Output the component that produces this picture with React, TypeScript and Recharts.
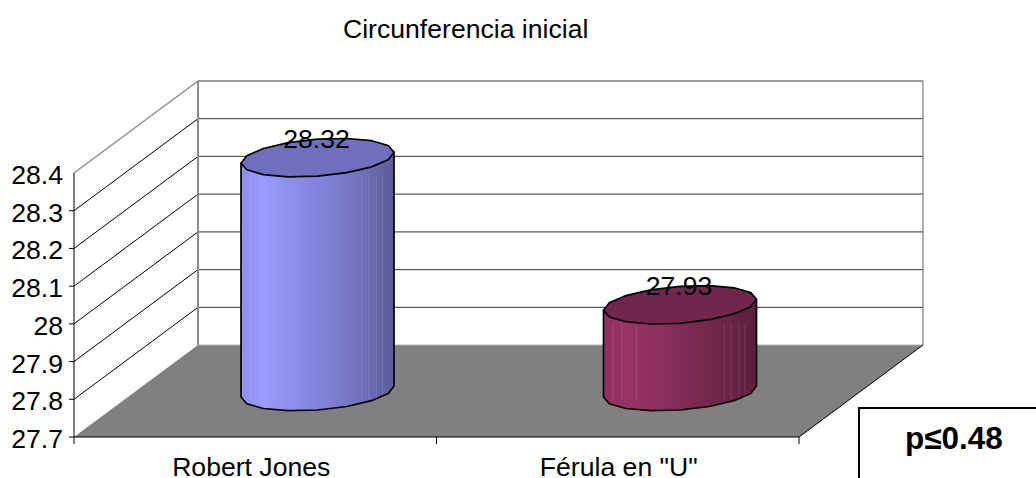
import React from "react";
import { BarChart, Bar, XAxis, YAxis, CartesianGrid, LabelList } from "recharts";

const categories = ["Robert Jones", 'Férula en "U"'];
const circunferencia = [28.32, 27.93];
const yTicks = [27.7, 27.8, 27.9, 28, 28.1, 28.2, 28.3, 28.4];
const title = "Circunferencia inicial";
const pValue = "p≤0.48";

const palette = [
  { top: "#6f6fbd", stops: ["#8f8fee", "#9999ff", "#8a8ae6", "#7676c4", "#5c5c99"] },
  { top: "#73264d", stops: ["#8f305f", "#993366", "#8a2e5c", "#70264b", "#5c1f3d"] },
];
const labelShift = [-4, 1];

const W = 1036, H = 478;
const LEFT = 74, TOP = 173, PW = 725, PH = 264;
const DX = 124, DY = 92;
const FONT = "'Liberation Sans', Arial, sans-serif";
const FS = 26.6;
const rows = categories.map((name, i) => ({ name, value: circunferencia[i] }));

const seams = [0.06, 0.12, 0.215, 0.79, 0.835, 0.885, 0.925];

function rim(cx: number, cy: number, a: number, from: number, to: number, n: number) {
  const pts: string[] = [];
  for (let i = 0; i <= n; i++) {
    const t = from + ((to - from) * i) / n;
    pts.push(`${(cx + a * Math.cos(t)).toFixed(1)} ${(cy + 18.5 * Math.sin(t) - 5.5 * Math.cos(t)).toFixed(1)}`);
  }
  return pts;
}

function Cylinder(props: any) {
  const { x, y, width, height, index } = props;
  const cx = x + width / 2 + DX / 2;
  const a = width / 2;
  const top = y - DY / 2 + 0.5;
  const bot = y + height - DY / 2 + 0.5;
  const c = palette[index];
  const id = `cyl-${index}`;
  const lower = rim(cx, bot, a, 0, Math.PI, 8);
  const leftTop = rim(cx, top, a, Math.PI, Math.PI, 1)[0];
  const rightTop = rim(cx, top, a, 0, 0, 1)[0];
  const side = `M ${rightTop} L ${lower.join(" L ")} L ${leftTop} Z`;
  const cap = `M ${rim(cx, top, a, 0, Math.PI * 2, 16).join(" L ")} Z`;
  return (
    <g>
      <defs>
        <linearGradient id={id} x1="0" y1="0" x2="1" y2="0">
          <stop offset="0" stopColor={c.stops[0]} />
          <stop offset="0.15" stopColor={c.stops[1]} />
          <stop offset="0.4" stopColor={c.stops[2]} />
          <stop offset="0.72" stopColor={c.stops[3]} />
          <stop offset="1" stopColor={c.stops[4]} />
        </linearGradient>
      </defs>
      <path d={side} fill={`url(#${id})`} stroke="#000" strokeWidth={1.7} strokeLinejoin="round" />
      {seams.map((s) => (
        <line
          key={s}
          x1={cx - a + s * width}
          x2={cx - a + s * width}
          y1={top + 18}
          y2={bot + 8}
          stroke="#fff"
          strokeOpacity={0.12}
          strokeWidth={1}
        />
      ))}
      <path d={cap} fill={c.top} stroke="#000" strokeWidth={1.7} strokeLinejoin="round" />
    </g>
  );
}

function WallLine(props: any) {
  const { x1, x2, y1, index } = props;
  const bx = x1 + DX;
  const by = y1 - DY;
  const isBottom = Math.abs(y1 - (TOP + PH)) < 1;
  const isTop = Math.abs(y1 - TOP) < 1;
  if (isBottom) {
    return (
      <g key={index}>
        <polygon points={`${x1},${y1} ${bx},${by} ${x2 + DX},${by} ${x2},${y1}`} fill="#808080" />
        <line x1={bx} y1={by} x2={x2 + DX} y2={by} stroke="#b0b0b0" strokeWidth={1} />
        <line x1={x2} y1={y1} x2={x2 + DX} y2={by} stroke="#000" strokeWidth={1} />
      </g>
    );
  }
  return (
    <g key={index}>
      <path d={`M ${x1} ${y1} L ${bx} ${by}`} fill="none" stroke={isTop ? "#8c8c8c" : "#000"} strokeWidth={isTop ? 1.4 : 1} />
      <line x1={bx} y1={by} x2={x2 + DX} y2={by} stroke={isTop ? "#999" : "#5a5a5a"} strokeWidth={isTop ? 2 : 1.2} />
      {isTop && (
        <>
          <line x1={bx} y1={by} x2={bx} y2={by + PH} stroke="#8c8c8c" strokeWidth={2} />
          <line x1={x2 + DX} y1={by} x2={x2 + DX} y2={by + PH} stroke="#8c8c8c" strokeWidth={1.4} />
        </>
      )}
    </g>
  );
}

function YTick(props: any) {
  const { x, y, payload } = props;
  const last = payload.value === yTicks[yTicks.length - 1];
  return (
    <g>
      {!last && <line x1={LEFT - 5} x2={LEFT} y1={y} y2={y} stroke="#000" strokeWidth={1} />}
      <text x={63} y={y + 11} textAnchor="end" fontFamily={FONT} fontSize={FS} fill="#000">
        {payload.value}
      </text>
    </g>
  );
}

function XTick(props: any) {
  const { x, payload, index } = props;
  const half = PW / categories.length / 2;
  const base = TOP + PH;
  return (
    <g>
      <line x1={x - half} x2={x - half} y1={base} y2={base + 7} stroke="#000" strokeWidth={1} />
      <line x1={x + half} x2={x + half} y1={base} y2={base + 7} stroke="#000" strokeWidth={1} />
      <text x={x + labelShift[index]} y={475.5} textAnchor="middle" fontFamily={FONT} fontSize={FS} fill="#000">
        {payload.value}
      </text>
    </g>
  );
}

function ValueLabel(props: any) {
  const { x, y, width, value } = props;
  return (
    <text x={x + width / 2 + DX / 2 - 1} y={y - DY / 2 - 9.5} textAnchor="middle" fontFamily={FONT} fontSize={FS} fill="#000">
      {value}
    </text>
  );
}

export default function App() {
  return (
    <div style={{ position: "absolute", left: 0, top: 0, width: W, height: H, overflow: "hidden", background: "#fff" }}>
      <BarChart
        width={W}
        height={H}
        data={rows}
        margin={{ top: TOP, right: W - LEFT - PW, bottom: 0, left: 0 }}
        barCategoryGap={0}
      >
        <CartesianGrid vertical={false} horizontal={WallLine as any} />
        <XAxis
          dataKey="name"
          height={H - TOP - PH}
          interval={0}
          tickLine={false}
          axisLine={{ stroke: "#000", strokeWidth: 1 }}
          tick={XTick as any}
        />
        <YAxis
          type="number"
          width={LEFT}
          domain={[27.7, 28.4]}
          ticks={yTicks}
          interval={0}
          tickLine={false}
          axisLine={{ stroke: "#000", strokeWidth: 1 }}
          tick={YTick as any}
        />
        <Bar dataKey="value" barSize={153} isAnimationActive={false} shape={Cylinder as any}>
          <LabelList dataKey="value" content={ValueLabel as any} />
        </Bar>
      </BarChart>
      <div
        style={{
          position: "absolute",
          left: 343,
          top: 14,
          fontFamily: FONT,
          fontSize: FS,
          lineHeight: "30px",
          color: "#000",
          whiteSpace: "nowrap",
        }}
      >
        {title}
      </div>
      <div
        style={{
          position: "absolute",
          left: 858,
          top: 407,
          width: 190,
          height: 90,
          boxSizing: "border-box",
          border: "2px solid #000",
          background: "#fff",
          fontFamily: FONT,
          fontSize: 31.5,
          fontWeight: "bold",
          color: "#000",
          paddingLeft: 45,
          paddingTop: 11,
          lineHeight: "36px",
        }}
      >
        {pValue}
      </div>
    </div>
  );
}
